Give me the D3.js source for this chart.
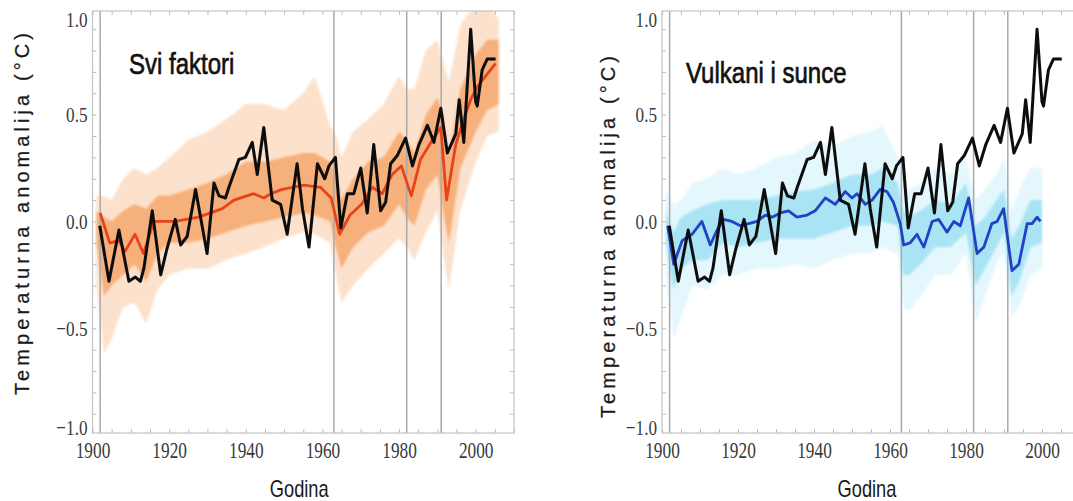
<!DOCTYPE html>
<html>
<head>
<meta charset="utf-8">
<script src="https://cdn.jsdelivr.net/npm/d3@7"></script>
<style>
  body { margin: 0; background: #fff; }
</style>
</head>
<body>
<svg id="chart" width="1073" height="501"></svg>
<script>
// observed temperature (black line), same in both panels
var obsYears = [1901.9, 1904.3, 1906.9, 1909.5, 1911.2, 1912.5, 1913.4, 1915.6, 1917.8, 1919.4,
  1921.6, 1923.0, 1924.7, 1926.9, 1929.9, 1931.7, 1933.0, 1934.7, 1935.6, 1938.2,
  1939.9, 1941.7, 1943.0, 1944.7, 1946.9, 1949.1, 1950.8, 1953.4, 1954.8, 1956.5,
  1958.7, 1960.6, 1961.7, 1963.4, 1964.8, 1966.5, 1968.2, 1970.0, 1971.7, 1973.4,
  1975.2, 1976.5, 1977.8, 1979.6, 1981.7, 1983.5, 1985.2, 1987.4, 1989.1, 1990.9,
  1992.6, 1994.8, 1995.7, 1996.9, 1998.7, 2000.0, 2000.4, 2001.7, 2003.0, 2004.3, 2005.2];
var obsValues = [-0.02, -0.28, -0.04, -0.28, -0.26, -0.28, -0.22, 0.05, -0.25, -0.13,
  0.01, -0.11, -0.07, 0.15, -0.15, 0.18, 0.12, 0.11, 0.16, 0.29,
  0.30, 0.37, 0.22, 0.44, 0.10, 0.08, -0.06, 0.27, 0.06, -0.12,
  0.27, 0.20, 0.26, 0.30, -0.03, 0.13, 0.13, 0.25, 0.04, 0.36,
  0.05, 0.09, 0.27, 0.31, 0.39, 0.26, 0.36, 0.45, 0.37, 0.53,
  0.32, 0.41, 0.57, 0.37, 0.90, 0.56, 0.54, 0.71, 0.76, 0.76, 0.76];

// "Svi faktori" model mean (red)
var allYears = [1902, 1904.5, 1906.9, 1908.5, 1911.1, 1913.3, 1916, 1921.6, 1927.7, 1933.9,
  1936.9, 1942.1, 1944.7, 1946.5, 1949.5, 1955.2, 1959.5, 1962.3, 1964.5, 1967.2,
  1970.2, 1973, 1975.6, 1978.2, 1980.6, 1983.2, 1985.6, 1988.3, 1990.9, 1992.4,
  1994.8, 1996.9, 1998.7, 2000.4, 2002.6, 2005.2];
var allMean = [0.04, -0.10, -0.09, -0.14, -0.06, -0.15, 0.0, 0.0, 0.02, 0.06,
  0.10, 0.13, 0.11, 0.13, 0.15, 0.17, 0.16, 0.11, -0.06, 0.03,
  0.08, 0.16, 0.13, 0.22, 0.26, 0.12, 0.29, 0.37, 0.44, 0.10,
  0.36, 0.48, 0.57, 0.63, 0.68, 0.74];

// "Svi faktori" ensemble spread (orange)
var allEnvYears = [1901, 1903, 1905, 1908, 1911, 1914, 1917, 1920, 1925, 1930, 1935, 1940, 1945,
  1950, 1955, 1958, 1962, 1963.5, 1965, 1968, 1972, 1976, 1980, 1982, 1984, 1987, 1990,
  1991.5, 1993, 1996, 2000, 2003, 2006];
var allOuterHi = [0.12, 0.12, 0.10, 0.20, 0.25, 0.22, 0.25, 0.30, 0.38, 0.42, 0.48, 0.55, 0.55,
  0.52, 0.60, 0.68, 0.45, 0.40, 0.30, 0.42, 0.48, 0.55, 0.68, 0.62, 0.62, 0.80, 0.85,
  0.75, 0.65, 0.92, 1.02, 1.02, 0.95];
var allOuterLo = [-0.30, -0.62, -0.55, -0.40, -0.38, -0.48, -0.32, -0.25, -0.22, -0.22, -0.18, -0.15, -0.12,
  -0.08, -0.05, -0.06, -0.10, -0.25, -0.38, -0.30, -0.22, -0.15, -0.08, -0.12, -0.18, -0.05, 0.05,
  -0.15, -0.32, 0.05, 0.28, 0.40, 0.42];
var allInnerHi = [0.05, 0.02, 0.0, 0.05, 0.08, 0.06, 0.12, 0.12, 0.15, 0.18, 0.22, 0.28, 0.28,
  0.30, 0.32, 0.32, 0.28, 0.22, 0.10, 0.20, 0.28, 0.30, 0.42, 0.38, 0.32, 0.50, 0.58,
  0.50, 0.30, 0.62, 0.78, 0.85, 0.85];
var allInnerLo = [-0.10, -0.35, -0.30, -0.25, -0.20, -0.28, -0.15, -0.10, -0.10, -0.08, -0.05, -0.02, 0.0,
  0.02, 0.04, 0.03, 0.0, -0.12, -0.22, -0.12, -0.05, -0.02, 0.08, 0.02, -0.02, 0.15, 0.22,
  0.05, -0.10, 0.25, 0.42, 0.52, 0.55];

// "Vulkani i sunce" model mean (blue)
var natYears = [1901.5, 1903.1, 1905.3, 1907.9, 1910.5, 1912.7, 1914.5, 1916.2, 1918.4, 1920.6,
  1922.8, 1925, 1927.2, 1929, 1931.1, 1933.3, 1935.5, 1938.2, 1940.3, 1943,
  1945.6, 1948.2, 1950, 1951.3, 1953.5, 1955.3, 1957.4, 1959.2, 1960.9, 1962.7,
  1963.6, 1965.3, 1967.1, 1968.9, 1971.1, 1972.8, 1975, 1976.8, 1978.5, 1980.7,
  1982.9, 1984.7, 1986.8, 1988.2, 1989.9, 1992.1, 1993.9, 1996.1, 1997.4, 1998.7, 1999.6];
var natMean = [-0.02, -0.20, -0.09, -0.06, 0.0, -0.11, -0.04, 0.01, 0.0, -0.02,
  -0.01, 0.0, 0.03, 0.02, 0.04, 0.05, 0.02, 0.03, 0.05, 0.11,
  0.08, 0.14, 0.11, 0.13, 0.08, 0.10, 0.15, 0.14, 0.09, -0.01,
  -0.11, -0.10, -0.06, -0.12, 0.0, 0.01, -0.05, 0.0, -0.02, 0.11,
  -0.15, -0.12, -0.01, 0.0, 0.06, -0.23, -0.20, -0.01, -0.01, 0.02, 0.0];

// "Vulkani i sunce" ensemble spread (cyan)
var natEnvYears = [1901, 1903, 1905, 1908, 1912, 1916, 1920, 1925, 1930, 1935, 1940, 1945, 1950,
  1955, 1958, 1962, 1963.5, 1965, 1968, 1972, 1976, 1980, 1982.5, 1985, 1988, 1990, 1992,
  1994, 1997, 2000];
var natOuterHi = [0.15, 0.08, 0.10, 0.18, 0.20, 0.25, 0.22, 0.25, 0.30, 0.32, 0.38, 0.35, 0.40,
  0.42, 0.45, 0.30, 0.20, 0.15, 0.18, 0.25, 0.22, 0.30, 0.10, 0.15, 0.22, 0.30, 0.05,
  0.15, 0.25, 0.25];
var natOuterLo = [-0.25, -0.55, -0.45, -0.30, -0.32, -0.25, -0.25, -0.22, -0.22, -0.20, -0.22, -0.18, -0.15,
  -0.15, -0.12, -0.15, -0.40, -0.42, -0.35, -0.25, -0.25, -0.15, -0.48, -0.35, -0.20, -0.15, -0.45,
  -0.40, -0.25, -0.22];
var natInnerHi = [0.05, -0.05, 0.02, 0.05, 0.08, 0.10, 0.10, 0.10, 0.12, 0.14, 0.15, 0.18, 0.22,
  0.22, 0.25, 0.18, 0.05, 0.02, 0.05, 0.10, 0.08, 0.18, -0.02, 0.02, 0.10, 0.15, -0.08,
  -0.02, 0.10, 0.10];
var natInnerLo = [-0.10, -0.32, -0.22, -0.18, -0.18, -0.10, -0.12, -0.10, -0.08, -0.08, -0.08, -0.05, -0.02,
  -0.02, 0.0, -0.02, -0.25, -0.25, -0.20, -0.12, -0.12, -0.05, -0.30, -0.22, -0.12, -0.05, -0.35,
  -0.28, -0.12, -0.10];

var volcanoYears = [1902, 1963, 1982, 1991];
var xTickLabels = [1900, 1920, 1940, 1960, 1980, 2000];
var yTickLabels = [-1.0, -0.5, 0.0, 0.5, 1.0];
var panelTitles = ["Svi faktori", "Vulkani i sunce"];
var yTitle = "Temperaturna anomalija (°C)";
var xTitle = "Godina";

var svg = d3.select("#chart");

// squeeze text horizontally, the source image is narrow
function condense(sel, k) {
  sel.each(function() {
    var w = this.getComputedTextLength();
    d3.select(this).attr("textLength", w * k).attr("lengthAdjust", "spacingAndGlyphs");
  });
}

function pts(xs, ys) {
  return xs.map(function(x, i) { return { x: x, y: ys[i] }; });
}

var defs = svg.append("defs");
defs.append("filter").attr("id", "fuzz")
  .append("feGaussianBlur").attr("stdDeviation", 1.1);
defs.append("filter").attr("id", "soft")
  .append("feGaussianBlur").attr("stdDeviation", 0.45);

function drawPanel(p, idx) {
  var x = d3.scaleLinear().domain([1900, 2010]).range([p.left, p.right]);
  var y = d3.scaleLinear().domain([-0.99, 0.985]).range([433, 11]);
  var top = 11, bottom = 433;

  var g = svg.append("g");

  defs.append("clipPath").attr("id", "clip" + idx)
    .append("rect")
    .attr("x", p.left).attr("y", top)
    .attr("width", p.right - p.left).attr("height", bottom - top);

  var plot = g.append("g").attr("clip-path", "url(#clip" + idx + ")");

  var band = d3.area()
    .x(function(d) { return x(d.x); })
    .y0(function(d) { return y(d.lo); })
    .y1(function(d) { return y(d.hi); });

  var outer = p.env.map(function(yr, i) { return { x: yr, lo: p.outerLo[i], hi: p.outerHi[i] }; });
  var inner = p.env.map(function(yr, i) { return { x: yr, lo: p.innerLo[i], hi: p.innerHi[i] }; });

  plot.append("path").datum(outer)
    .attr("d", band)
    .attr("fill", p.outerColor)
    .attr("opacity", 0.5)
    .attr("filter", "url(#fuzz)");
  plot.append("path").datum(inner)
    .attr("d", band)
    .attr("fill", p.innerColor)
    .attr("opacity", 0.62)
    .attr("filter", "url(#fuzz)");

  // volcanic eruptions
  plot.selectAll(".volc")
    .data(volcanoYears)
    .enter()
    .append("line")
    .attr("x1", function(d) { return x(d); })
    .attr("x2", function(d) { return x(d); })
    .attr("y1", top).attr("y2", bottom)
    .attr("stroke", "#a9a9a9")
    .attr("stroke-width", 1.5);

  var line = d3.line()
    .x(function(d) { return x(d.x); })
    .y(function(d) { return y(d.y); });

  plot.append("path").datum(pts(p.meanYears, p.mean))
    .attr("d", line)
    .attr("fill", "none")
    .attr("stroke", p.meanColor)
    .attr("stroke-width", 2.8)
    .attr("stroke-linejoin", "round")
    .attr("filter", "url(#soft)");

  plot.append("path").datum(pts(obsYears, obsValues))
    .attr("d", line)
    .attr("fill", "none")
    .attr("stroke", "#0d0d0d")
    .attr("stroke-width", 3)
    .attr("stroke-linejoin", "round")
    .attr("filter", "url(#soft)");

  // frame
  g.append("rect")
    .attr("x", p.left).attr("y", top)
    .attr("width", p.right - p.left).attr("height", bottom - top)
    .attr("fill", "none")
    .attr("stroke", "#c4c4c4")
    .attr("stroke-width", 1.2);

  // minor ticks on all four sides
  var xt = d3.range(1900, 2011, 5);
  var yt = d3.range(-9, 10).map(function(d) { return d / 10; });
  function tickStyle(a) {
    a.select(".domain").remove();
    a.selectAll("line").attr("stroke", "#bdbdbd");
    a.selectAll("text").remove();
  }
  g.append("g").attr("transform", "translate(0," + bottom + ")")
    .call(d3.axisBottom(x).tickValues(xt).tickSize(-4)).call(tickStyle);
  g.append("g").attr("transform", "translate(0," + top + ")")
    .call(d3.axisTop(x).tickValues(xt).tickSize(-4)).call(tickStyle);
  g.append("g").attr("transform", "translate(" + p.left + ",0)")
    .call(d3.axisLeft(y).tickValues(yt).tickSize(-4)).call(tickStyle);
  g.append("g").attr("transform", "translate(" + p.right + ",0)")
    .call(d3.axisRight(y).tickValues(yt).tickSize(-4)).call(tickStyle);

  // tick labels
  var xa = g.append("g").attr("transform", "translate(0," + bottom + ")")
    .call(d3.axisBottom(x).tickValues(xTickLabels).tickSize(0).tickPadding(8).tickFormat(d3.format("d")));
  xa.select(".domain").remove();
  xa.selectAll("text")
    .attr("fill", "#3a3a3a")
    .style("font-family", "'Liberation Serif', 'DejaVu Serif', serif")
    .style("font-size", "24px")
    .call(condense, 0.72);

  var ya = g.append("g").attr("transform", "translate(" + p.left + ",0)")
    .call(d3.axisLeft(y).tickValues(yTickLabels).tickSize(0).tickPadding(5).tickFormat(d3.format(".1f")));
  ya.select(".domain").remove();
  ya.selectAll("text")
    .attr("fill", "#3a3a3a")
    .style("font-family", "'Liberation Serif', 'DejaVu Serif', serif")
    .style("font-size", "22px")
    .attr("y", function(d) { return d === 1 ? 12 : (d === -1 ? -8 : 0); })
    .call(condense, 0.78);

  // panel title
  svg.append("text")
    .attr("x", p.titleX).attr("y", p.titleY)
    .attr("fill", "#111")
    .attr("stroke", "#111")
    .attr("stroke-width", 0.7)
    .style("font-family", "'Liberation Sans', Arial, sans-serif")
    .style("font-size", "30px")
    .text(panelTitles[idx])
    .call(condense, 0.8);

  // axis titles
  svg.append("text")
    .attr("transform", "translate(" + p.yTitleX + "," + p.yTitleY + ") rotate(-90)")
    .attr("text-anchor", "middle")
    .attr("dominant-baseline", "central")
    .attr("fill", "#1a1a1a")
    .attr("stroke", "#1a1a1a")
    .attr("stroke-width", 0.25)
    .style("font-family", "'Liberation Sans', Arial, sans-serif")
    .style("font-size", "20px")
    .attr("textLength", 362)
    .attr("lengthAdjust", "spacing")
    .text(yTitle);

  svg.append("text")
    .attr("x", (p.left + p.right) / 2 - 4).attr("y", 497)
    .attr("text-anchor", "middle")
    .attr("fill", "#1a1a1a")
    .style("font-family", "'Liberation Sans', Arial, sans-serif")
    .style("font-size", "24px")
    .text(xTitle)
    .call(condense, 0.76);
}

drawPanel({
  left: 92.5, right: 514,
  env: allEnvYears, outerHi: allOuterHi, outerLo: allOuterLo, innerHi: allInnerHi, innerLo: allInnerLo,
  outerColor: "#f9c49a", innerColor: "#f3924a",
  meanYears: allYears, mean: allMean, meanColor: "#e8431b",
  titleX: 129, titleY: 74,
  yTitleX: 22, yTitleY: 214
}, 0);

drawPanel({
  left: 662, right: 1080,
  env: natEnvYears, outerHi: natOuterHi, outerLo: natOuterLo, innerHi: natInnerHi, innerLo: natInnerLo,
  outerColor: "#c9f0fb", innerColor: "#86d9f1",
  meanYears: natYears, mean: natMean, meanColor: "#2242c4",
  titleX: 686, titleY: 83,
  yTitleX: 608, yTitleY: 237
}, 1);
</script>
</body>
</html>
